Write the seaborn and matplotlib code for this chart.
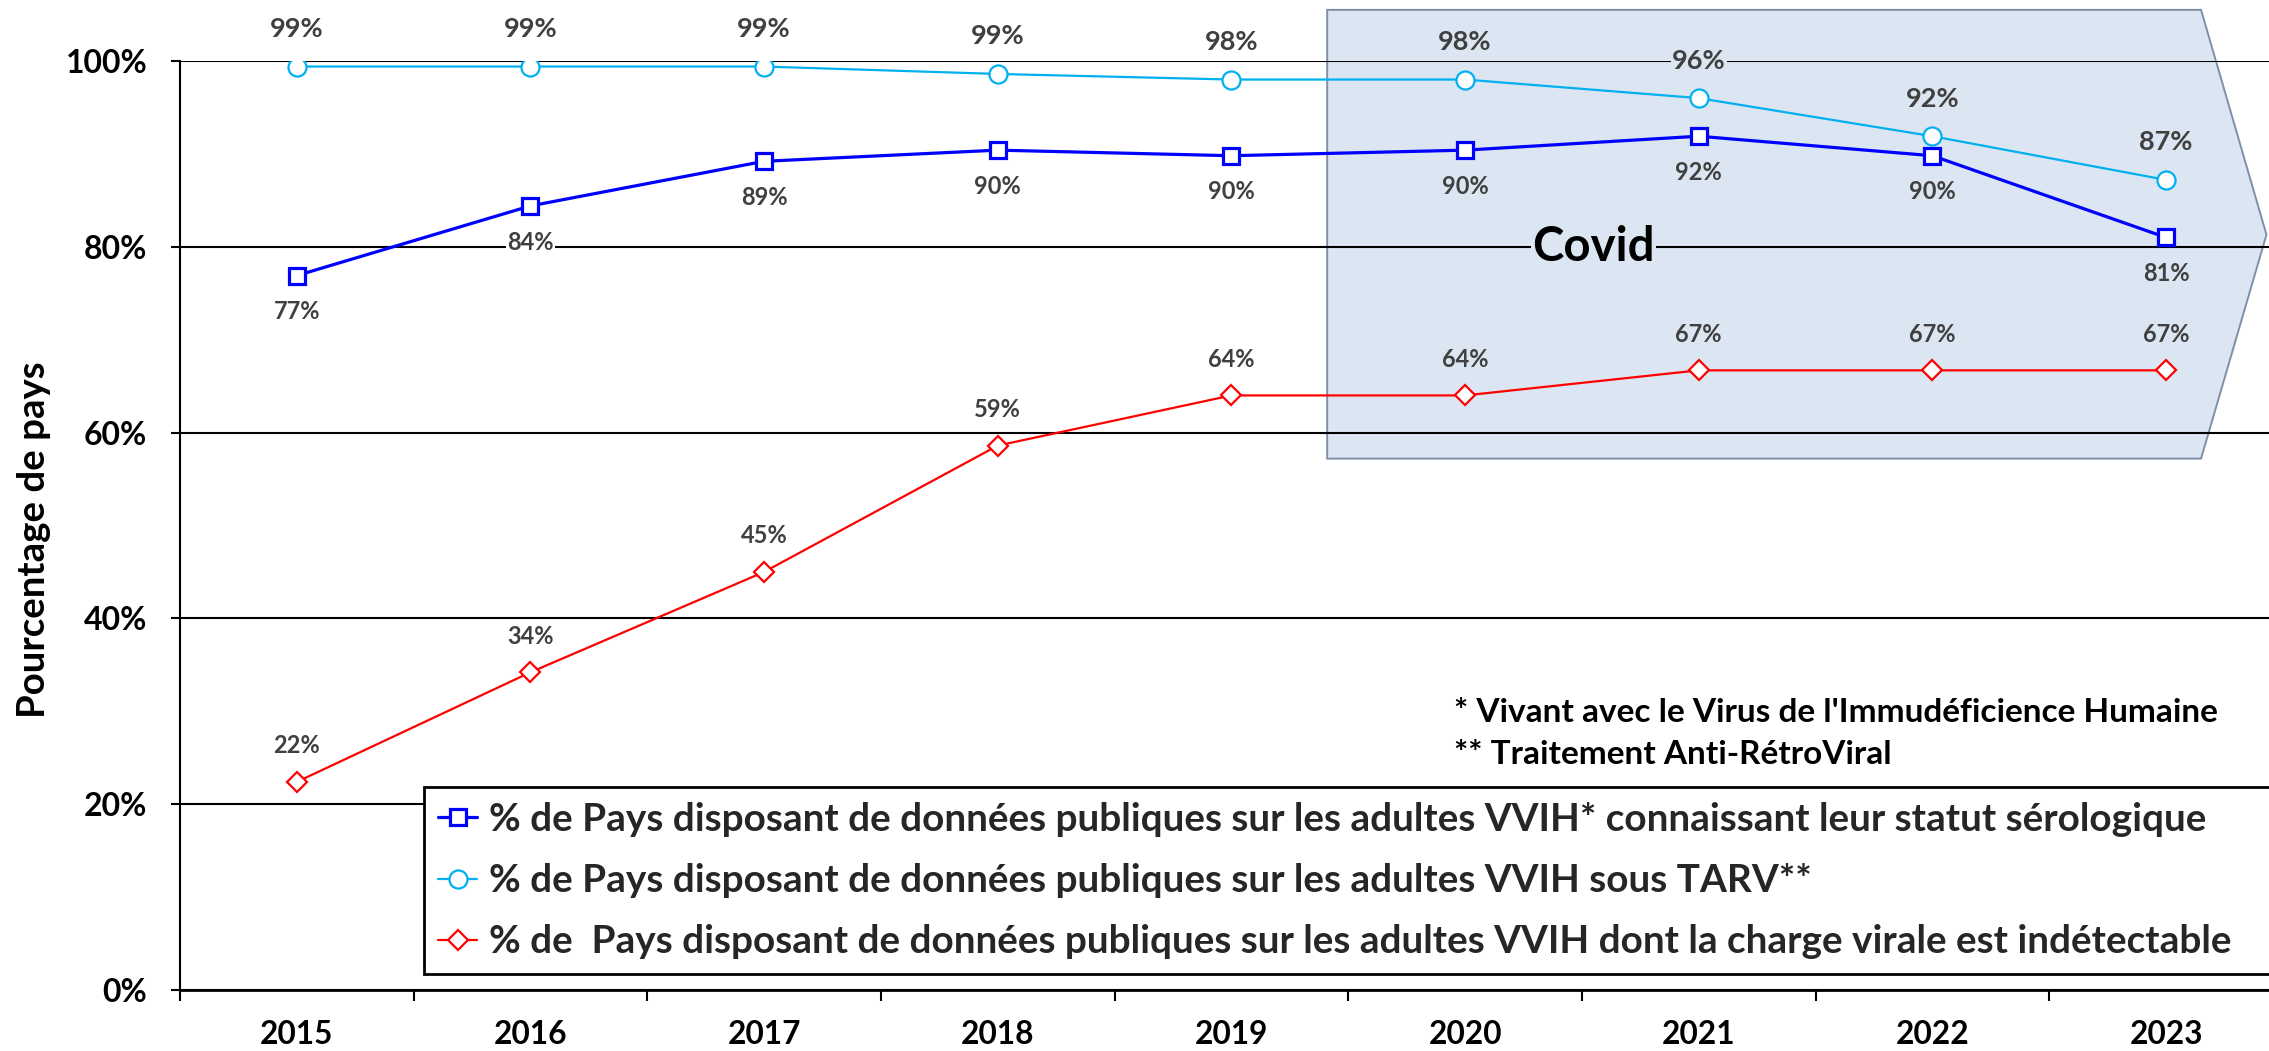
import numpy as np
import pandas as pd
import matplotlib
matplotlib.use("Agg")
import matplotlib.pyplot as plt
from matplotlib import font_manager
from matplotlib.patches import Polygon
import seaborn as sns

# ---------------- data ----------------
years = ["2015", "2016", "2017", "2018", "2019", "2020", "2021", "2022", "2023"]
connaissant = [76.9, 84.4, 89.2, 90.4, 89.8, 90.4, 91.9, 89.8, 81.0]
sous_tarv = [99.4, 99.4, 99.4, 98.6, 98.0, 98.0, 96.0, 91.9, 87.2]
indetectable = [22.4, 34.2, 45.0, 58.6, 64.0, 64.0, 66.7, 66.7, 66.7]

series_labels = [
    "% de Pays disposant de données publiques sur les adultes VVIH* connaissant leur statut sérologique",
    "% de Pays disposant de données publiques sur les adultes VVIH sous TARV**",
    "% de  Pays disposant de données publiques sur les adultes VVIH dont la charge virale est indétectable",
]
y_ticks = [0, 20, 40, 60, 80, 100]
y_label = "Pourcentage de pays"
covid_label = "Covid"
footnotes = ["* Vivant avec le Virus de l'Immudéficience Humaine",
             "** Traitement Anti-RétroViral"]

# ---------------- style ----------------
sns.set_theme(style="white")
avail = {f.name for f in font_manager.fontManager.ttflist}
main_font = "Lato" if "Lato" in avail else "DejaVu Sans"
plt.rcParams["font.family"] = [main_font, "DejaVu Sans"]

BLUE = "#0000FF"
LIGHT = "#00B0F0"
RED = "#FF0000"
BOXC = "#DCE6F2"
LABC = "#404040"

fig = plt.figure(figsize=(22.69, 10.51), dpi=100)
ax = fig.add_axes([0.0793, 0.058, 0.9268, 0.884])

x = np.arange(len(years))
df = pd.DataFrame({"x": x, "c": connaissant, "t": sous_tarv, "i": indetectable})

sns.lineplot(data=df, x="x", y="c", ax=ax, color=BLUE, linewidth=2.3, marker="s",
             markersize=11.5, markerfacecolor="white", markeredgecolor=BLUE,
             markeredgewidth=2.3, label=series_labels[0], zorder=3)
sns.lineplot(data=df, x="x", y="t", ax=ax, color=LIGHT, linewidth=1.6, marker="o",
             markersize=13, markerfacecolor="white", markeredgecolor=LIGHT,
             markeredgewidth=1.6, label=series_labels[1], zorder=3)
sns.lineplot(data=df, x="x", y="i", ax=ax, color=RED, linewidth=1.6, marker="D",
             markersize=10, markerfacecolor="white", markeredgecolor=RED,
             markeredgewidth=1.6, label=series_labels[2], zorder=3)

ax.set_xlim(-0.5, 8.5)
ax.set_ylim(0, 100)

# Covid arrow box
poly = Polygon([(4.41, 105.5), (8.15, 105.5), (8.43, 81.3), (8.15, 57.2), (4.41, 57.2)],
               closed=True, facecolor=BOXC, edgecolor="#7F8FA9", linewidth=1.4,
               zorder=0.2, clip_on=False)
ax.add_patch(poly)

# grid
ax.set_axisbelow(True)
ax.set_yticks(y_ticks)
ax.set_yticklabels([f"{v}%" for v in y_ticks])
ax.yaxis.grid(True, color="black", linewidth=1.5)
ax.xaxis.grid(False)
for s in ["top", "right"]:
    ax.spines[s].set_visible(False)
ax.spines["left"].set_color("black")
ax.spines["left"].set_linewidth(1.5)
ax.spines["bottom"].set_color("black")
ax.spines["bottom"].set_linewidth(2)

# x ticks at boundaries, labels at centres
ax.set_xticks(np.arange(-0.5, 9.0, 1.0))
ax.set_xticklabels([])
ax.set_xticks(x, minor=True)
ax.set_xticklabels(years, minor=True)
ax.tick_params(axis="x", which="major", direction="out", length=8, width=1.5,
               color="black", bottom=True)
ax.tick_params(axis="x", which="minor", length=0, pad=21.5, labelsize=22.8)
ax.tick_params(axis="y", direction="out", length=6.5, width=1.5, color="black",
               left=True, labelsize=23, pad=17)
for lab in ax.get_xticklabels(minor=True) + ax.get_yticklabels():
    lab.set_fontweight("bold")
    lab.set_color("black")

ax.set_xlabel("")
ax.set_ylabel(y_label, fontsize=27.6, fontweight="bold", color="black")
ax.yaxis.label.set_va("center")
ax.yaxis.set_label_coords(-0.0695, 0.485)

# Covid text
ax.text(5.55, 80, covid_label, fontsize=34, fontweight="bold", color="black",
        ha="center", va="center", zorder=4,
        bbox=dict(facecolor=BOXC, edgecolor="none", pad=1))

# data labels
def bg(i):
    return BOXC if i >= 5 else "white"

for i, v in enumerate(sous_tarv):
    ax.annotate(f"{v:.0f}%", (x[i], v), xytext=(0, 27), textcoords="offset points",
                ha="center", va="center", fontsize=19.5, fontweight="bold", color=LABC,
                annotation_clip=False, zorder=5,
                bbox=dict(facecolor=bg(i), edgecolor="none", pad=1))
for i, v in enumerate(connaissant):
    ax.annotate(f"{v:.0f}%", (x[i], v), xytext=(0, -26), textcoords="offset points",
                ha="center", va="center", fontsize=17, fontweight="bold", color=LABC,
                zorder=5, bbox=dict(facecolor=bg(i), edgecolor="none", pad=1))
for i, v in enumerate(indetectable):
    ax.annotate(f"{v:.0f}%", (x[i], v), xytext=(0, 26), textcoords="offset points",
                ha="center", va="center", fontsize=17, fontweight="bold", color=LABC,
                zorder=5, bbox=dict(facecolor=bg(i), edgecolor="none", pad=1))

# footnotes
fig.text(1454 / 2269, 1 - 713 / 1051, footnotes[0], fontsize=24, fontweight="bold",
         color="black", ha="left", va="center")
fig.text(1454 / 2269, 1 - 755 / 1051, footnotes[1], fontsize=24, fontweight="bold",
         color="black", ha="left", va="center")

# legend (box runs past the right edge, as in the reference)
leg = ax.legend(loc="upper left", bbox_to_anchor=(0.1159, 0.0, 0.89, 0.2185),
                mode="expand", frameon=True,
                fancybox=False, edgecolor="black", framealpha=1, facecolor="white",
                prop=dict(size=27.9, weight="bold"),
                handlelength=1.0, handletextpad=0.3, labelspacing=0.68,
                borderpad=0.38, borderaxespad=0)
leg.get_frame().set_linewidth(2)
leg.set_zorder(6)

fig.savefig("out.png", dpi=100)
